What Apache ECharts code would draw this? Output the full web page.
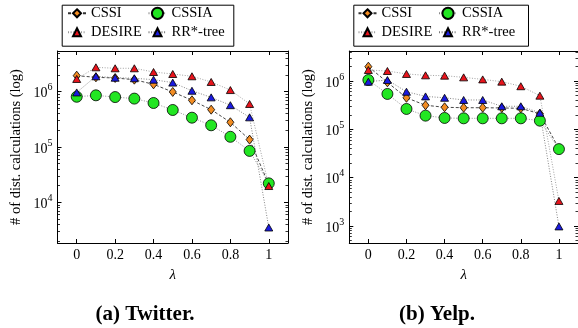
<!DOCTYPE html>
<html>
<head>
<meta charset="utf-8">
<script src="https://cdn.jsdelivr.net/npm/echarts@6/dist/echarts.min.js"></script>
<style>
  html, body { margin: 0; padding: 0; background: #fff; }
  #chart { width: 578px; height: 328px; }
</style>
</head>
<body>
<div id="chart"></div>
<script>
// λ values on the horizontal axis
const lambdas = [0, 0.1, 0.2, 0.3, 0.4, 0.5, 0.6, 0.7, 0.8, 0.9, 1];
const xTickValues = [0, 0.2, 0.4, 0.6, 0.8, 1];

// Number of distance calculations, Twitter dataset
const twitterCSSI   = [1.95e6, 1.82e6, 1.77e6, 1.65e6, 1.36e6, 9.9e5, 7.0e5, 4.73e5, 2.8e5, 1.36e5, 2.1e4];
const twitterCSSIA  = [8.1e5, 8.6e5, 8.0e5, 7.5e5, 6.25e5, 4.67e5, 3.39e5, 2.47e5, 1.53e5, 8.5e4, 2.2e4];
const twitterDESIRE = [1.7e6, 2.76e6, 2.65e6, 2.65e6, 2.27e6, 2.09e6, 1.9e6, 1.5e6, 1.07e6, 6.0e5, 1.97e4];
const twitterRRStar = [9.7e5, 1.9e6, 1.79e6, 1.75e6, 1.65e6, 1.46e6, 1.04e6, 7.9e5, 5.7e5, 3.44e5, 3.5e3];

// Number of distance calculations, Yelp dataset
const yelpCSSI   = [1.98e6, 9.4e5, 4.5e5, 3.15e5, 2.86e5, 2.8e5, 2.8e5, 2.77e5, 2.72e5, 2.1e5, 4.0e4];
const yelpCSSIA  = [1.05e6, 5.4e5, 2.64e5, 1.92e5, 1.72e5, 1.69e5, 1.69e5, 1.69e5, 1.69e5, 1.51e5, 3.9e4];
const yelpDESIRE = [1.69e6, 1.61e6, 1.4e6, 1.31e6, 1.29e6, 1.19e6, 1.08e6, 9.7e5, 7.8e5, 4.97e5, 3.3e3];
const yelpRRStar = [9.7e5, 1.05e6, 6.0e5, 4.8e5, 4.5e5, 4.05e5, 4.05e5, 3.0e5, 3.0e5, 2.2e5, 9.8e2];

// Decade exponents shown on each y axis
const twitterDecades = [4, 5, 6];
const yelpDecades = [3, 4, 5, 6];

const seriesNames = ['CSSI', 'CSSIA', 'DESIRE', 'RR*-tree'];
const captions = ['(a) Twitter.', '(b) Yelp.'];
const yTitle = '# of dist. calculations (log)';
const xTitle = 'λ';

const FONT = 'Liberation Serif';

// Per-method look: marker, size, fill and connecting line
const styles = {
  'CSSI':     { symbol: 'diamond',  size: [7, 9],  fill: '#f28c22', line: { color: '#333', width: 0.9, type: [3, 2] } },
  'CSSIA':    { symbol: 'circle',   size: 11,      fill: '#22e622', line: { color: '#888', width: 0.9, type: [1, 1.6] } },
  'DESIRE':   { symbol: 'triangle', size: [8, 7],  fill: '#e8141c', line: { color: '#999', width: 0.9, type: [1, 1.6] } },
  'RR*-tree': { symbol: 'triangle', size: [8, 7],  fill: '#1a1ae0', line: { color: '#777', width: 0.9, type: [1, 1.6] } }
};

const panels = [
  { values: [twitterCSSI, twitterCSSIA, twitterDESIRE, twitterRRStar], decades: twitterDecades,
    yMin: 3.264, yMax: 6.736, left: 57.5, width: 230.5, legendShift: 0, boxLeft: 59.7, boxWidth: 171.6, caption: 145 },
  { values: [yelpCSSI, yelpCSSIA, yelpDESIRE, yelpRRStar], decades: yelpDecades,
    yMin: 2.648, yMax: 6.621, left: 349.3, width: 231.3, legendShift: 290.5, boxLeft: 351.3, boxWidth: 174.7, caption: 437 }
];

function minorTicks(lo, hi) {
  const out = [];
  for (let d = Math.floor(lo); d <= Math.ceil(hi); d++) {
    for (let k = 2; k <= 9; k++) {
      const v = d + Math.log10(k);
      if (v > lo && v < hi) out.push(v);
    }
  }
  return out;
}

const grid = [], xAxis = [], yAxis = [], series = [], legend = [], graphic = [];
const frameLine = { show: true, onZero: false, lineStyle: { color: '#000', width: 1 } };
const noLine = { show: false, onZero: false };

panels.forEach((p, gi) => {
  grid.push({ left: p.left, top: 51, width: p.width, height: 192 });

  const xLabelFmt = v => String(Math.round(v * 10) / 10);
  // bottom axis with labels
  xAxis.push({
    type: 'value', gridIndex: gi, min: -0.1, max: 1.1, position: 'bottom',
    axisLine: frameLine,
    axisTick: { show: true, inside: true, length: 4, customValues: xTickValues, lineStyle: { color: '#000' } },
    axisLabel: { show: true, customValues: xTickValues, formatter: xLabelFmt, margin: 5,
                 fontFamily: FONT, fontSize: 14, color: '#000' },
    splitLine: { show: false },
    name: xTitle, nameLocation: 'middle', nameGap: 25,
    nameTextStyle: { fontFamily: FONT, fontSize: 15, fontStyle: 'italic', color: '#000' }
  });
  // mirrored top axis
  xAxis.push({
    type: 'value', gridIndex: gi, min: -0.1, max: 1.1, position: 'top',
    axisLine: frameLine,
    axisTick: { show: true, inside: true, length: 4, customValues: xTickValues, lineStyle: { color: '#000' } },
    axisLabel: { show: false }, splitLine: { show: false }
  });

  const minor = minorTicks(p.yMin, p.yMax);
  const yBase = { type: 'value', gridIndex: gi, min: p.yMin, max: p.yMax, splitLine: { show: false } };
  // left: decades with labels
  yAxis.push(Object.assign({}, yBase, {
    position: 'left',
    axisLine: frameLine,
    axisTick: { show: true, inside: true, length: 4, customValues: p.decades, lineStyle: { color: '#000' } },
    axisLabel: {
      show: true, customValues: p.decades, margin: 5,
      formatter: v => '{b|10}{s|' + Math.round(v) + '}',
      rich: {
        b: { fontFamily: FONT, fontSize: 14, color: '#000', lineHeight: 18, verticalAlign: 'bottom' },
        s: { fontFamily: FONT, fontSize: 10, color: '#000', lineHeight: 18, verticalAlign: 'top' }
      }
    },
    name: yTitle, nameLocation: 'middle', nameGap: 34, nameRotate: 90,
    nameTextStyle: { fontFamily: FONT, fontSize: 14.5, color: '#000' }
  }));
  // left: minor ticks
  yAxis.push(Object.assign({}, yBase, {
    position: 'left', axisLine: noLine,
    axisTick: { show: true, inside: true, length: 2.5, customValues: minor, lineStyle: { color: '#000', width: 0.8 } },
    axisLabel: { show: false }
  }));
  // right: mirrored decades
  yAxis.push(Object.assign({}, yBase, {
    position: 'right', axisLine: frameLine,
    axisTick: { show: true, inside: true, length: 4, customValues: p.decades, lineStyle: { color: '#000' } },
    axisLabel: { show: false }
  }));
  // right: mirrored minor ticks
  yAxis.push(Object.assign({}, yBase, {
    position: 'right', axisLine: noLine,
    axisTick: { show: true, inside: true, length: 2.5, customValues: minor, lineStyle: { color: '#000', width: 0.8 } },
    axisLabel: { show: false }
  }));

  seriesNames.forEach((name, si) => {
    const st = styles[name];
    series.push({
      name, type: 'line', xAxisIndex: gi * 2, yAxisIndex: gi * 4,
      data: lambdas.map((x, i) => [x, Math.log10(p.values[si][i])]),
      symbol: st.symbol, symbolSize: st.size, showAllSymbol: true,
      lineStyle: st.line,
      itemStyle: { color: st.fill, borderColor: '#000', borderWidth: 0.8 },
      emphasis: { disabled: true }, animation: false, clip: false
    });
  });

  // legend: one component per entry so each marker keeps its own size
  const colX = [76, 156.5], rowY = [13.3, 32.3];
  seriesNames.forEach((name, si) => {
    const ih = name === 'CSSIA' ? 14 : 10;
    const cx = colX[si % 2] + p.legendShift;
    const cy = rowY[Math.floor(si / 2)];
    legend.push({
      data: [name], orient: 'horizontal', padding: 0, itemGap: 0,
      left: cx - 9, top: cy - 8.5,
      itemWidth: 18, itemHeight: ih, selectedMode: false,
      textStyle: { fontFamily: FONT, fontSize: 14.5, color: '#000', lineHeight: 17 }
    });
  });
  graphic.push({
    type: 'rect', left: p.boxLeft, top: 2.7,
    shape: { width: p.boxWidth, height: 41 },
    style: { fill: 'none', stroke: '#000', lineWidth: 1 }, silent: true
  });

  // sub-figure caption
  graphic.push({
    type: 'text', x: p.caption, y: 315, silent: true,
    style: { text: captions[gi], textAlign: 'center', textVerticalAlign: 'middle',
             font: 'bold 21px "' + FONT + '"', fill: '#000' }
  });
});

const chart = echarts.init(document.getElementById('chart'), null, { renderer: 'canvas' });
chart.setOption({
  animation: false,
  textStyle: { fontFamily: FONT },
  grid, xAxis, yAxis, series, legend, graphic
});
</script>
</body>
</html>
